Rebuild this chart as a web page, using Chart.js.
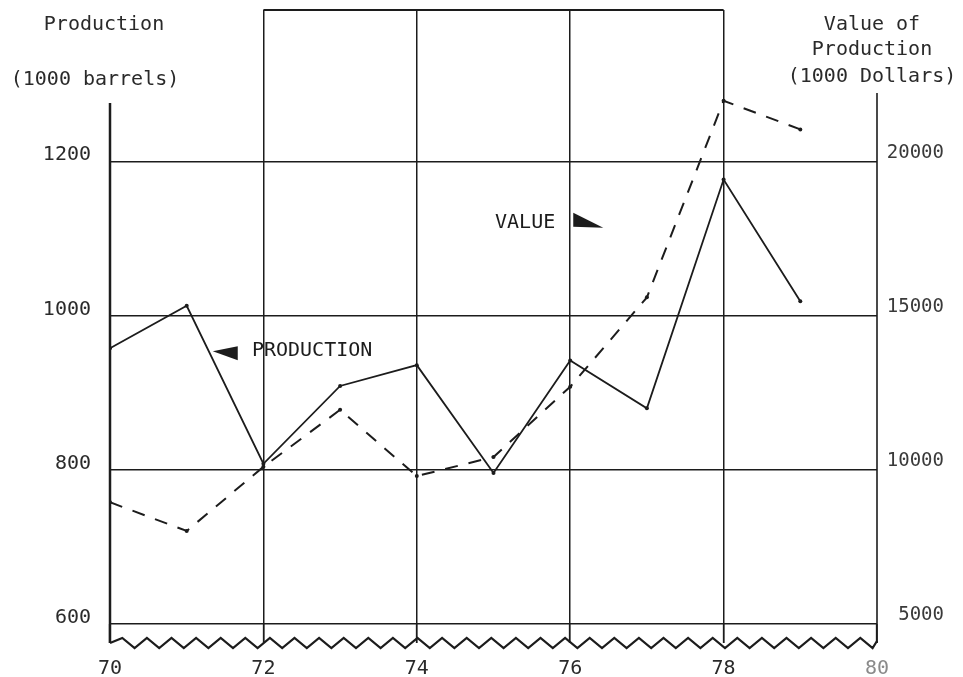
<!DOCTYPE html>
<html>
<head>
<meta charset="utf-8">
<script src="https://cdn.jsdelivr.net/npm/chart.js@4.4.1/dist/chart.umd.min.js"></script>
<style>
  html, body { margin: 0; padding: 0; background: #fff; }
  #wrap { width: 963px; height: 677px; }
</style>
</head>
<body>
<div id="wrap"><canvas id="chart"></canvas></div>
<script>
// values
const years = [70, 71, 72, 73, 74, 75, 76, 77, 78, 79];
const production = [958, 1013, 808, 909, 936, 796, 942, 880, 1177, 1019];        // 1000 barrels
const valueOfProduction = [8950, 8020, 10100, 11950, 9800, 10420, 12700, 15600, 21980, 21050]; // 1000 dollars
const yearTicks = [70, 72, 74, 76, 78, 80];
const productionTicks = [600, 800, 1000, 1200];
const valueTicks = [5000, 10000, 15000, 20000];

const FONT = "'DejaVu Sans Mono', 'Liberation Mono', monospace";
const INK = '#1c1c1c';

function toPoints(xs, ys) {
  return xs.map((x, i) => ({ x: x, y: ys[i] }));
}

// frame pieces, broken-axis zigzag, arrows and axis titles
const decorPlugin = {
  id: 'decor',
  afterDraw(chart) {
    const { ctx, chartArea } = chart;
    const x = chart.scales.x;
    const y = chart.scales.yProd;
    const x70 = x.getPixelForValue(70);
    const x80 = x.getPixelForValue(80);
    const bottom = chartArea.bottom;

    ctx.save();
    ctx.strokeStyle = INK;
    ctx.lineCap = 'butt';

    // left axis
    ctx.lineWidth = 2.5;
    ctx.beginPath();
    ctx.moveTo(x70, 103);
    ctx.lineTo(x70, bottom + 19);
    ctx.stroke();

    // right axis
    ctx.lineWidth = 1.6;
    ctx.beginPath();
    ctx.moveTo(x80, 93);
    ctx.lineTo(x80, bottom + 19);
    ctx.stroke();

    // top border between 72 and 78
    ctx.lineWidth = 2;
    ctx.beginPath();
    ctx.moveTo(x.getPixelForValue(72), chartArea.top);
    ctx.lineTo(x.getPixelForValue(78), chartArea.top);
    ctx.stroke();

    // zigzag axis break
    ctx.lineWidth = 2.2;
    ctx.lineJoin = 'miter';
    ctx.beginPath();
    const zy = bottom + 19;
    let up = false;
    for (let px = x70; px <= x80 + 0.1; px += 12.3) {
      const yy = up ? zy - 5 : zy + 5;
      if (px === x70) ctx.moveTo(px, zy); else ctx.lineTo(px, yy);
      up = !up;
    }
    ctx.lineTo(x80, zy - 2);
    ctx.stroke();

    // annotations
    ctx.fillStyle = INK;
    ctx.font = '20px ' + FONT;
    ctx.textBaseline = 'middle';
    ctx.textAlign = 'left';

    const py = y.getPixelForValue(954);
    const tipP = x.getPixelForValue(71.34);
    ctx.beginPath();
    ctx.moveTo(tipP, py);
    ctx.lineTo(tipP + 25, py - 5);
    ctx.lineTo(tipP + 25, py + 9);
    ctx.closePath();
    ctx.fill();
    ctx.fillText('PRODUCTION', x.getPixelForValue(71.85), py);

    const vy = y.getPixelForValue(1121);
    ctx.fillText('VALUE', x.getPixelForValue(75.02), vy);
    const baseV = x.getPixelForValue(76.04);
    ctx.beginPath();
    ctx.moveTo(baseV, vy - 10);
    ctx.lineTo(baseV + 30, vy + 5);
    ctx.lineTo(baseV, vy + 4);
    ctx.closePath();
    ctx.fill();

    // axis titles
    ctx.fillStyle = '#2a2a2a';
    ctx.textAlign = 'center';
    ctx.fillText('Production', 104, 25);
    ctx.fillText('(1000 barrels)', 95, 80);
    ctx.fillText('Value of', 872, 25);
    ctx.fillText('Production', 872, 50);
    ctx.fillText('(1000 Dollars)', 872, 77);
    ctx.restore();
  }
};

function noPad(s) {
  s.paddingTop = 0;
  s.paddingBottom = 0;
  s.paddingLeft = 0;
  s.paddingRight = 0;
}

const ctx = document.getElementById('chart');
new Chart(ctx, {
  type: 'line',
  data: {
    datasets: [
      {
        label: 'Production',
        data: toPoints(years, production),
        yAxisID: 'yProd',
        borderColor: INK,
        backgroundColor: INK,
        borderWidth: 1.8,
        pointRadius: 2,
        pointBorderWidth: 0,
        tension: 0
      },
      {
        label: 'Value',
        data: toPoints(years, valueOfProduction),
        yAxisID: 'yValue',
        borderColor: INK,
        backgroundColor: INK,
        borderWidth: 2,
        borderDash: [13, 11],
        pointRadius: 2,
        pointBorderWidth: 0,
        tension: 0
      }
    ]
  },
  options: {
    responsive: true,
    maintainAspectRatio: false,
    animation: false,
    layout: { padding: { top: 10, left: 0, right: 19, bottom: 0 } },
    plugins: {
      legend: { display: false },
      tooltip: { enabled: false }
    },
    scales: {
      x: {
        type: 'linear',
        min: 70,
        max: 80,
        afterBuildTicks: (s) => { s.ticks = yearTicks.map(v => ({ value: v })); },
        afterFit: (s) => { s.height = 53; noPad(s); },
        border: { display: false },
        grid: {
          color: (c) => (c.tick && (c.tick.value === 70 || c.tick.value === 80)) ? 'rgba(0,0,0,0)' : INK,
          lineWidth: 1.5,
          drawTicks: true,
          tickLength: 19,
          tickColor: INK,
          tickWidth: 1.8
        },
        ticks: {
          padding: 14,
          maxRotation: 0,
          font: { family: FONT, size: 20 },
          color: (c) => c.tick && c.tick.value === 80 ? '#8a8a8a' : '#2a2a2a',
          callback: (v) => String(v)
        }
      },
      yProd: {
        type: 'linear',
        position: 'left',
        min: 600,
        max: 1397,
        afterBuildTicks: (s) => { s.ticks = productionTicks.map(v => ({ value: v })); },
        afterFit: (s) => { s.width = 110; noPad(s); },
        border: { display: false },
        grid: { color: INK, lineWidth: 1.5, drawTicks: false },
        ticks: {
          padding: 19,
          font: { family: FONT, size: 20, lineHeight: 0.65 },
          color: '#2a2a2a',
          callback: (v) => [String(v), '']
        }
      },
      yValue: {
        type: 'linear',
        position: 'right',
        min: 5000,
        max: 24925,
        afterBuildTicks: (s) => { s.ticks = valueTicks.map(v => ({ value: v })); },
        afterFit: (s) => { s.width = 67; noPad(s); },
        border: { display: false },
        grid: { display: false, drawTicks: false },
        ticks: {
          padding: 8,
          crossAlign: 'far',
          font: { family: FONT, size: 19, lineHeight: 0.95 },
          color: '#3a3a3a',
          callback: (v) => [String(v), '']
        }
      }
    }
  },
  plugins: [decorPlugin]
});
</script>
</body>
</html>
